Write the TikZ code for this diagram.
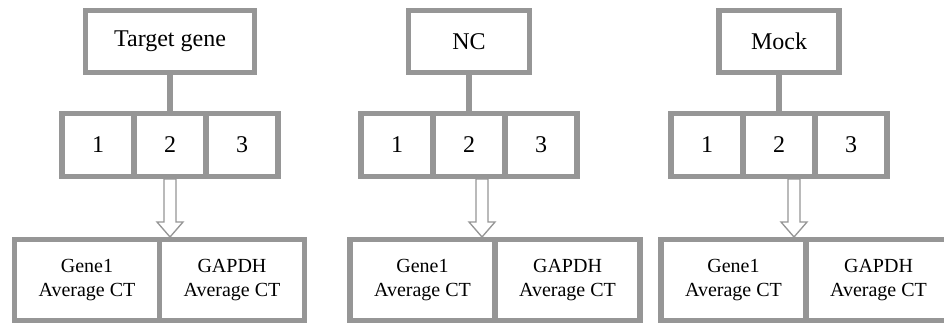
\documentclass[tikz,border=0pt]{standalone}
\usepackage{fontspec}
\setmainfont{Liberation Serif}
\usetikzlibrary{positioning}
\definecolor{boxgray}{RGB}{150,150,150}
\begin{document}
\begin{tikzpicture}[x=0.75pt, y=-0.75pt, line join=miter,
	box/.style={draw=boxgray, line width=4pt, inner sep=0pt, outer sep=0pt, font=\fontsize{18}{22}\selectfont},
	cell/.style={box, minimum width=54pt, minimum height=47.25pt},
	ctbox/.style={box, minimum width=108.75pt, minimum height=60.75pt, align=center, font=\fontsize{15}{18}\selectfont},
	link/.style={draw=boxgray, line width=4pt},
	hollow/.style={draw=boxgray, line width=1pt, fill=white}]
			\useasboundingbox (0,0) rectangle (944,324);
			\fill[white] (0,0) rectangle (944,324);
			\clip (0,0) rectangle (944,324);
			\foreach \name/\lab/\x/\tw/\ax/\bx in {t/Target gene/170/126.75pt/170/159.5, n/NC/469/90.75pt/482/495, m/Mock/779/90pt/794/806} {
				\node[box, minimum width=\tw, minimum height=46.5pt] (\name-top) at (\x,41.5) {\lab};
				\node[cell] (\name-2) at (\x,145) {2};
				\node[cell, left=0pt of \name-2] (\name-1) {1};
				\node[cell, right=0pt of \name-2] (\name-3) {3};
				\draw[link] (\name-top) -- (\name-2);
				\node[ctbox, anchor=east] (\name-gene) at (\bx,280) {Gene1\\Average CT};
				\node[ctbox, right=0pt of \name-gene] (\name-gapdh) {GAPDH\\Average CT};
				\coordinate (\name-tail) at (\ax,179);
				\draw[hollow] (\name-tail) ++(-6,0) -- ++(0,43) -- ++(-7,0) -- ++(13,15) -- ++(13,-15) -- ++(-7,0) -- ++(0,-43) -- cycle;
			}
		\end{tikzpicture}
\end{document}
